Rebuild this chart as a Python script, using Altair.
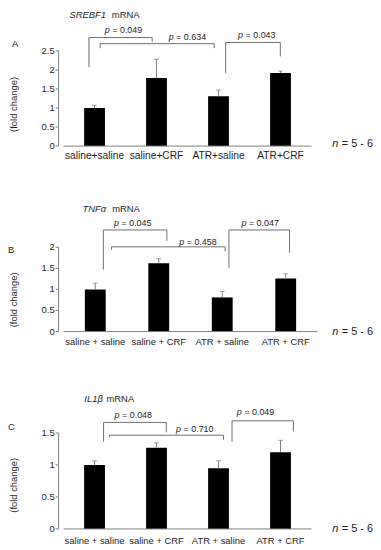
import altair as alt
import pandas as pd

FONT = "Liberation Sans"
GRAY = "#808080"
BRK = "#6e6e6e"
TXT = "#1e1e1e"

# ---------------- data ----------------
labels_A = ["saline+saline", "saline+CRF", "ATR+saline", "ATR+CRF"]
labels_BC = ["saline + saline", "saline + CRF", "ATR + saline", "ATR + CRF"]

mean_A = [1.00, 1.79, 1.31, 1.92]
sem_A = [0.07, 0.49, 0.16, 0.05]
mean_B = [1.00, 1.62, 0.81, 1.26]
sem_B = [0.15, 0.11, 0.14, 0.11]
mean_C = [1.00, 1.27, 0.95, 1.20]
sem_C = [0.065, 0.075, 0.115, 0.185]

ticks_A = [0, 0.5, 1, 1.5, 2, 2.5]
ticks_B = [0, 0.5, 1, 1.5, 2]
ticks_C = [0, 0.5, 1, 1.5]
tick_labels_A = ["0", "0.5", "1", "1.5", "2", "2.5"]
tick_labels_B = ["0", "0.5", "1", "1.5", "2"]
tick_labels_C = ["0", "0.5", "1", "1.5"]

# significance brackets (x in group-index units, y in fold-change units)
br_left_A = [-0.09, 0.09, 2.115]
br_right_A = [0.93, 1.93, 2.997]
br_top_A = [2.85, 2.69, 2.72]
br_lend_A = [2.07, 2.57, 1.92]
br_rend_A = [2.74, 2.57, 2.35]
p_text_A = ["= 0.049", "= 0.634", "=  0.043"]
p_x_A = [0.47, 1.50, 2.62]
p_y_A = [3.05, 2.87, 2.92]

br_left_B = [0.127, 0.256, 2.106]
br_right_B = [1.128, 2.046, 3.06]
br_top_B = [2.41, 2.01, 2.41]
br_lend_B = [1.47, 1.94, 1.51]
br_rend_B = [2.15, 1.90, 1.87]
p_text_B = ["= 0.045", "= 0.458", "= 0.047"]
p_x_B = [0.593, 1.62, 2.60]
p_y_B = [2.57, 2.12, 2.57]

br_left_C = [0.146, 0.243, 2.218]
br_right_C = [1.157, 2.08, 3.208]
br_top_C = [1.665, 1.465, 1.69]
br_lend_C = [1.364, 1.43, 1.364]
br_rend_C = [1.51, 1.395, 1.526]
p_text_C = ["= 0.048", "= 0.710", "= 0.049"]
p_x_C = [0.628, 1.62, 2.60]
p_y_C = [1.778, 1.561, 1.82]


def one(**kw):
    return pd.DataFrame({k: [v] for k, v in kw.items()})


def panel(labels, means, sems, ticks, tick_labels, brl, brr, brt, brle, brre,
          ptxt, px, py, width, height, pxu, gene, gene_x, mrna_x, title_y,
          letter, letter_x, letter_y, ytitle_y, n_y, lab_size, lab_off):
    ymax = height / pxu
    xs = alt.Scale(domain=[-0.5, 3.5], nice=False, zero=False)
    ys = alt.Scale(domain=[0, ymax], nice=False, zero=False)

    df = pd.DataFrame({
        "idx": list(range(len(means))),
        "mean": means,
        "top": [m + s for m, s in zip(means, sems)],
        "label": labels,
    })

    bars = alt.Chart(df).mark_bar(size=21, color="#000000").encode(
        x=alt.X("idx:Q", scale=xs, axis=None),
        y=alt.Y("mean:Q", scale=ys, axis=None),
    )
    stems = alt.Chart(df).mark_rule(color=GRAY, strokeWidth=1).encode(
        x="idx:Q", y="mean:Q", y2="top:Q")
    caps = alt.Chart(df).mark_tick(color=GRAY, orient="horizontal", size=5,
                                   thickness=1).encode(x="idx:Q", y="top:Q")
    xlabels = alt.Chart(df).mark_text(align="center", baseline="middle",
                                      font=FONT, fontSize=lab_size,
                                      color=TXT).encode(
        x="idx:Q", y=alt.value(height + lab_off), text="label:N")

    # axes lines
    axes_df = pd.DataFrame({"x0": [-0.5], "x1": [3.5], "y0": [0.0],
                            "y1": [float(ticks[-1])]})
    xline = alt.Chart(axes_df).mark_rule(color=GRAY).encode(
        x="x0:Q", x2="x1:Q", y="y0:Q")
    yline = alt.Chart(axes_df).mark_rule(color=GRAY).encode(
        x=alt.value(0), y="y0:Q", y2="y1:Q")
    tdf = pd.DataFrame({"v": ticks, "t": tick_labels})
    yticks = alt.Chart(tdf).mark_rule(color=GRAY).encode(
        x=alt.value(-3), x2=alt.value(0), y="v:Q")
    ylabels = alt.Chart(tdf).mark_text(align="right", baseline="middle",
                                       font=FONT, fontSize=9.5,
                                       color=TXT).encode(
        x=alt.value(-4), y="v:Q", text="t:N")

    segs = []
    for l, r, t, le, re in zip(brl, brr, brt, brle, brre):
        segs.append({"x1": l, "x2": r, "y1": t, "y2": t})
        segs.append({"x1": l, "x2": l, "y1": le, "y2": t})
        segs.append({"x1": r, "x2": r, "y1": re, "y2": t})
    brackets = alt.Chart(pd.DataFrame(segs)).mark_rule(
        color=BRK, strokeWidth=1).encode(x="x1:Q", x2="x2:Q", y="y1:Q", y2="y2:Q")

    pdf = pd.DataFrame({"x": px, "y": py, "rest": ptxt})
    p_it = alt.Chart(pdf).mark_text(text="p", fontStyle="italic", align="left",
                                    baseline="middle", dx=-19, font=FONT,
                                    fontSize=9, color=TXT).encode(x="x:Q", y="y:Q")
    p_rest = alt.Chart(pdf).mark_text(align="left", baseline="middle", dx=-11.5,
                                      font=FONT, fontSize=9, color=TXT).encode(
        x="x:Q", y="y:Q", text="rest:N")

    t1 = alt.Chart(one(t=gene)).mark_text(fontStyle="italic", align="left",
                                          baseline="middle", font=FONT,
                                          fontSize=9.5, color=TXT).encode(
        text="t:N", x=alt.value(gene_x), y=alt.value(title_y))
    t2 = alt.Chart(one(t="mRNA")).mark_text(align="left", baseline="middle",
                                            font=FONT, fontSize=9.5,
                                            color=TXT).encode(
        text="t:N", x=alt.value(mrna_x), y=alt.value(title_y))
    lt = alt.Chart(one(t=letter)).mark_text(align="left", baseline="middle",
                                            font=FONT, fontSize=9.5,
                                            color=TXT).encode(
        text="t:N", x=alt.value(letter_x), y=alt.value(letter_y))
    yt = alt.Chart(one(t="(fold change)")).mark_text(
        angle=270, align="center", baseline="middle", font=FONT, fontSize=9.5,
        color=TXT).encode(text="t:N", x=alt.value(-44.5), y=alt.value(ytitle_y))
    n1 = alt.Chart(one(t="n")).mark_text(fontStyle="italic", align="left",
                                         baseline="middle", font=FONT,
                                         fontSize=11, color=TXT).encode(
        text="t:N", x=alt.value(276), y=alt.value(n_y))
    n2 = alt.Chart(one(t="= 5 - 6")).mark_text(align="left", baseline="middle",
                                               font=FONT, fontSize=11,
                                               color=TXT).encode(
        text="t:N", x=alt.value(285.5), y=alt.value(n_y))

    return alt.layer(bars, stems, caps, xlabels, xline, yline, yticks, ylabels,
                     brackets, p_it, p_rest, t1, t2, lt, yt, n1, n2
                     ).properties(width=width, height=height)


pA = panel(labels_A, mean_A, sem_A, ticks_A, tick_labels_A, br_left_A,
           br_right_A, br_top_A, br_lend_A, br_rend_A, p_text_A, p_x_A, p_y_A,
           width=260, height=137, pxu=38.4, gene="SREBF1", gene_x=11,
           mrna_x=53.7, title_y=5, letter="A", letter_x=-47, letter_y=34,
           ytitle_y=95, n_y=135, lab_size=10.3, lab_off=10)
pB = panel(labels_BC, mean_B, sem_B, ticks_B, tick_labels_B, br_left_B,
           br_right_B, br_top_B, br_lend_B, br_rend_B, p_text_B, p_x_B, p_y_B,
           width=266, height=187, pxu=42.5, gene="TNF\u03b1", gene_x=24,
           mrna_x=54, title_y=63, letter="B", letter_x=-51, letter_y=105,
           ytitle_y=155, n_y=187, lab_size=9.5, lab_off=10.7)
pC = panel(labels_BC, mean_C, sem_C, ticks_C, tick_labels_C, br_left_C,
           br_right_C, br_top_C, br_lend_C, br_rend_C, p_text_C, p_x_C, p_y_C,
           width=260, height=199, pxu=64.5, gene="IL1\u03b2", gene_x=26,
           mrna_x=48.3, title_y=68, letter="C", letter_x=-51, letter_y=96,
           ytitle_y=155, n_y=199, lab_size=9.5, lab_off=12.3)

chart = alt.vconcat(pA, pB, pC, spacing=0, bounds="flush").properties(
    padding=0
).configure(font=FONT, background="white").configure_view(stroke=None)

chart.save("out.html", embed_options={"renderer": "svg", "actions": False})
